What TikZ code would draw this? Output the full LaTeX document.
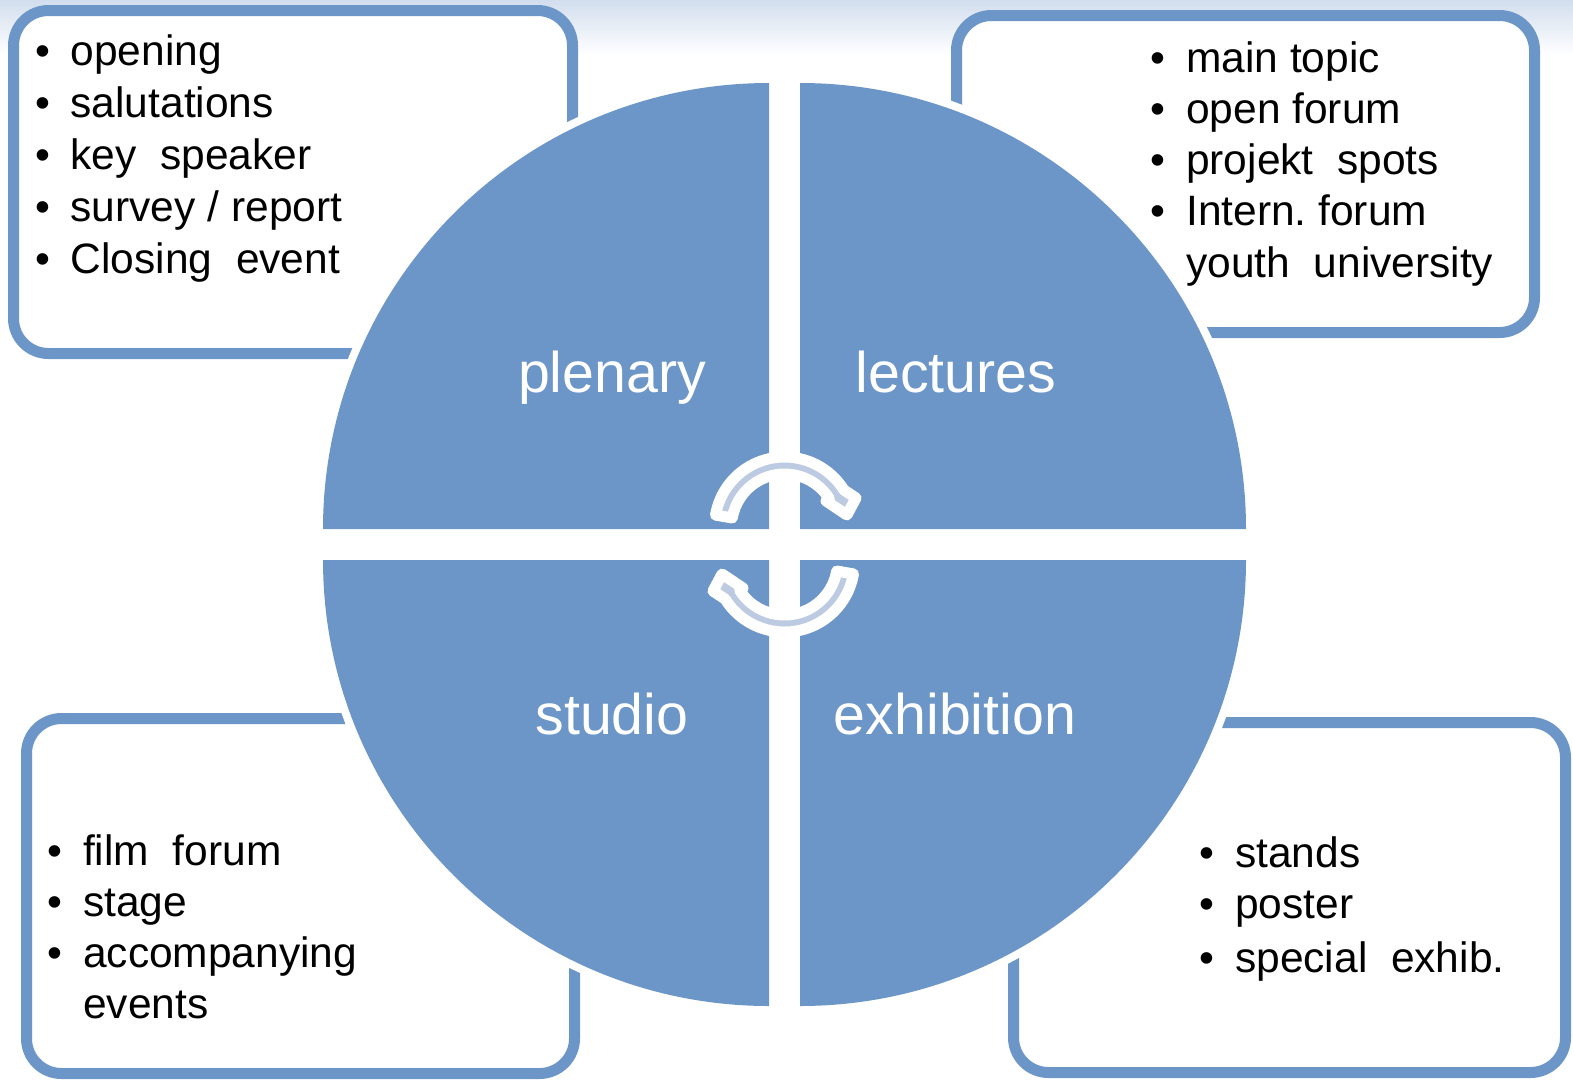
\documentclass[tikz,border=0pt]{standalone}
\usepackage{fontspec}
\setmainfont{Liberation Sans}
\definecolor{quadblue}{RGB}{108,150,199}
\definecolor{ringblue}{RGB}{188,203,226}
\definecolor{bgtop}{RGB}{210,222,238}
\newcommand{\bul}{\llap{\textbullet\hspace{20.5pt}}}
\begin{document}
\begin{tikzpicture}[x=1pt, y=-1pt,
    box/.style={draw=quadblue, line width=11, fill=white, rounded corners=35},
    quad/.style={fill=quadblue, preaction={draw=white, line width=16}},
    item/.style={anchor=base west, inner sep=0pt, font=\fontsize{42.5}{51}\selectfont},
    title/.style={anchor=base, inner sep=0pt, text=white, font=\fontsize{57.3}{60}\selectfont},
    turn/.style={fill=ringblue, draw=white, line width=11, line join=round}]
    \useasboundingbox (0,0) rectangle (1573,1080);
    % Background
    \shade[top color=bgtop, bottom color=white] (0,0) rectangle (1573,55);

    % Boxes
    \draw[box] (13.5,10.5) rectangle (572.5,353.5);
    \draw[box] (956.5,15.5) rectangle (1534.5,332.5);
    \draw[box] (26.5,718.5) rectangle (574.5,1073.5);
    \draw[box] (1013.5,722.5) rectangle (1565.5,1072.5);

    % Quadrants
    \foreach \cx/\cy/\a in {769/529/180, 800/529/270, 800/560/0, 769/560/90}
        \path[quad] (\cx,\cy) -- ++(\a:446) arc[start angle=\a, end angle=\a+90, radius=446] -- cycle;

    \node[title] (plenary) at (612,392) {plenary};
    \node[title] (lectures) at (956,392) {lectures};
    \node[title] (studio) at (612,734) {studio};
    \node[title] (exhibition) at (955,734) {exhibition};

    % Cycle arrows
    \foreach \r in {0,180} {
        \begin{scope}[rotate around={\r:(784.5,544.5)}, shift={(784.5,527)}]
            \path[turn] (189.8:70) arc[start angle=189.8, end angle=328, radius=70]
                -- (337.9:77.2) -- (349.1:63.6) -- (327.9:49)
                -- (328:53) arc[start angle=328, end angle=189.8, radius=53] -- cycle;
        \end{scope}
    }

    % Lists
    \foreach \t [count=\i from 0] in {\bul opening, \bul salutations, \bul key\ \ speaker, \bul survey / report, \bul Closing\ \ event}
        \node[item] (pl\i) at (70.5, 65+52*\i) {\t};
    \foreach \t [count=\i from 0] in {\bul main topic, \bul open forum, \bul projekt\ \ spots, \bul Intern.\ forum, youth\ \ university}
        \node[item] (le\i) at (1186, 72+51.3*\i) {\t};
    \foreach \t [count=\i from 0] in {\bul film\ \ forum, \bul stage, \bul accompanying, events}
        \node[item] (st\i) at (83, 865+51*\i) {\t};
    \foreach \t/\y [count=\i from 0] in {\bul stands/867, \bul poster/918, \bul special\ \ exhib./972}
        \node[item] (ex\i) at (1235, \y) {\t};
\end{tikzpicture}
\end{document}
